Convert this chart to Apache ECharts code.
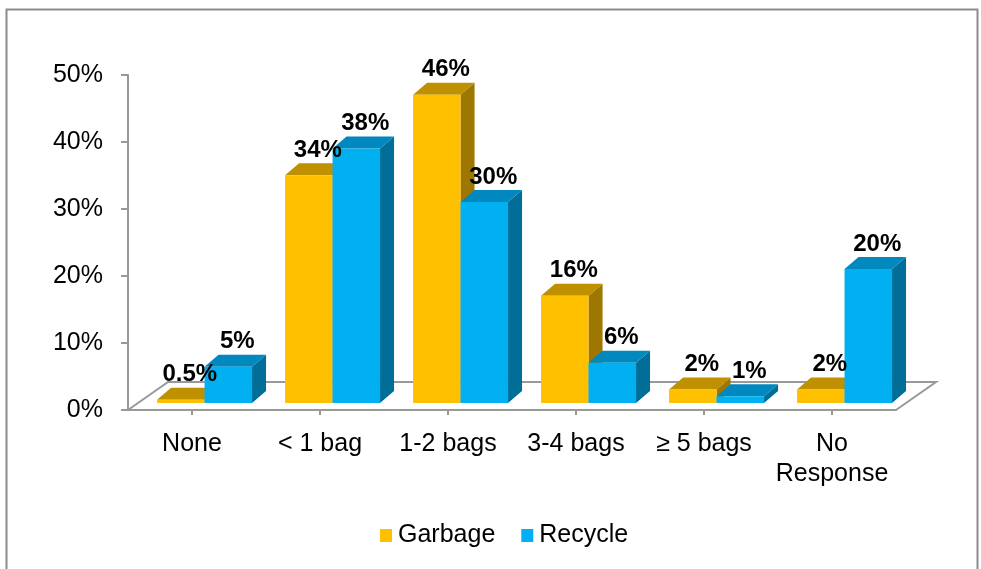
<!DOCTYPE html>
<html>
<head>
<meta charset="utf-8">
<script src="https://cdn.jsdelivr.net/npm/echarts@6/dist/echarts.min.js"></script>
<style>html,body{margin:0;padding:0;background:#fff}#c{width:981px;height:569px}</style>
</head>
<body>
<div id="c"></div>
<script>
// ---- data ----
const categories = ['None', '< 1 bag', '1-2 bags', '3-4 bags', '\u2265 5 bags', 'No\nResponse'];
const garbage = [0.5, 34, 46, 16, 2, 2];
const recycle = [5.4, 38, 30, 6, 1, 20];
const seriesNames = ['Garbage', 'Recycle'];
const yTicks = [0, 10, 20, 30, 40, 50];

// ---- styles ----
const FONT = "'Liberation Sans', Arial, sans-serif";
const colors = {
  Garbage: { front: '#FFC000', top: '#BF9000', side: '#9E7700' },
  Recycle: { front: '#00B0F0', top: '#0088BF', side: '#006E99' }
};
const DX = 14, DY = -12, BASE_SHIFT = -7;
const BAR_W = 0.371, BAR_SHIFT = 0.098;

function fmt(v) { return v < 1 ? v.toFixed(1) + '%' : Math.round(v) + '%'; }

function barGeom(api, which) {
  const idx = api.value(0), val = api.value(1);
  const bw = api.size([1, 0])[0];
  const c = api.coord([idx, 0]);
  const t = api.coord([idx, val]);
  const baseY = c[1] + BASE_SHIFT;
  const topY = t[1] + BASE_SHIFT;
  let x0, x1;
  if (which === 0) { x1 = c[0] + BAR_SHIFT * bw; x0 = x1 - BAR_W * bw; }
  else { x0 = c[0] + BAR_SHIFT * bw; x1 = x0 + BAR_W * bw; }
  return { x0, x1, baseY, topY, val };
}

function barRender(which) {
  const col = colors[seriesNames[which]];
  return function (params, api) {
    const g = barGeom(api, which);
    return {
      type: 'group',
      children: [
        { type: 'polygon', shape: { points: [[g.x1, g.topY], [g.x1 + DX, g.topY + DY], [g.x1 + DX, g.baseY + DY], [g.x1, g.baseY]] }, style: { fill: col.side } },
        { type: 'polygon', shape: { points: [[g.x0, g.topY], [g.x1, g.topY], [g.x1 + DX, g.topY + DY], [g.x0 + DX, g.topY + DY]] }, style: { fill: col.top } },
        { type: 'rect', shape: { x: g.x0, y: g.topY, width: g.x1 - g.x0, height: g.baseY - g.topY }, style: { fill: col.front } }
      ]
    };
  };
}

function labelRender(which) {
  return function (params, api) {
    const g = barGeom(api, which);
    return {
      type: 'text',
      x: (g.x0 + g.x1) / 2 + 9,
      y: g.topY + DY - 1,
      style: { text: fmt(g.val), font: 'bold 24px ' + FONT, fill: '#000', align: 'center', verticalAlign: 'bottom' }
    };
  };
}

function floorRender(params, api) {
  const bw = api.size([1, 0])[0];
  const n = categories.length;
  const l = api.coord([0, 0]);
  const r = api.coord([n - 1, 0]);
  const xl = l[0] - bw / 2, xr = r[0] + bw / 2, y = l[1];
  const fx = 40, fy = -28;
  return {
    type: 'polyline',
    shape: { points: [[xl, y], [xl + fx, y + fy], [xr + fx, y + fy], [xr, y]] },
    style: { stroke: '#999999', lineWidth: 2, fill: null }
  };
}

const toData = arr => arr.map((v, i) => [i, v]);

const chart = echarts.init(document.getElementById('c'), null, { renderer: 'canvas' });
chart.setOption({
  animation: false,
  backgroundColor: '#fff',
  graphic: [{
    type: 'rect', left: 4, top: 7, shape: { width: 971, height: 620 },
    style: { fill: null, stroke: '#8C8C8C', lineWidth: 2 }, silent: true
  }],
  legend: {
    data: seriesNames,
    left: 375, top: 518,
    icon: 'rect', itemWidth: 12, itemHeight: 13, itemGap: 26,
    textStyle: { fontFamily: FONT, fontSize: 25, color: '#000', padding: [0, 0, 0, 1] }
  },
  grid: { left: 128, right: 85, top: 75, bottom: 159 },
  xAxis: {
    type: 'category', data: categories, boundaryGap: true,
    axisLine: { show: true, lineStyle: { color: '#999999', width: 2 } },
    axisTick: { show: true, alignWithLabel: true, length: 5, lineStyle: { color: '#999999', width: 2 } },
    axisLabel: { margin: 19, fontFamily: FONT, fontSize: 25, color: '#000', lineHeight: 30, interval: 0 }
  },
  yAxis: {
    type: 'value', min: yTicks[0], max: yTicks[yTicks.length - 1], interval: 10,
    axisLine: { show: true, lineStyle: { color: '#999999', width: 2 } },
    axisTick: { show: true, length: 7, lineStyle: { color: '#999999', width: 2 } },
    splitLine: { show: false },
    axisLabel: { margin: 25, formatter: '{value}%', fontFamily: FONT, fontSize: 25, color: '#000' }
  },
  series: [
    { type: 'custom', name: 'floor', silent: true, z: 1, renderItem: floorRender, data: [[0, 0]], encode: { x: 0, y: 1 } },
    { type: 'custom', name: 'Garbage', z: 2, itemStyle: { color: colors.Garbage.front }, renderItem: barRender(0), data: toData(garbage), encode: { x: 0, y: 1 } },
    { type: 'custom', name: 'Recycle', z: 3, itemStyle: { color: colors.Recycle.front }, renderItem: barRender(1), data: toData(recycle), encode: { x: 0, y: 1 } },
    { type: 'custom', name: 'GarbageLabels', z: 5, silent: true, renderItem: labelRender(0), data: toData(garbage), encode: { x: 0, y: 1 } },
    { type: 'custom', name: 'RecycleLabels', z: 5, silent: true, renderItem: labelRender(1), data: toData(recycle), encode: { x: 0, y: 1 } }
  ]
});
</script>
</body>
</html>
